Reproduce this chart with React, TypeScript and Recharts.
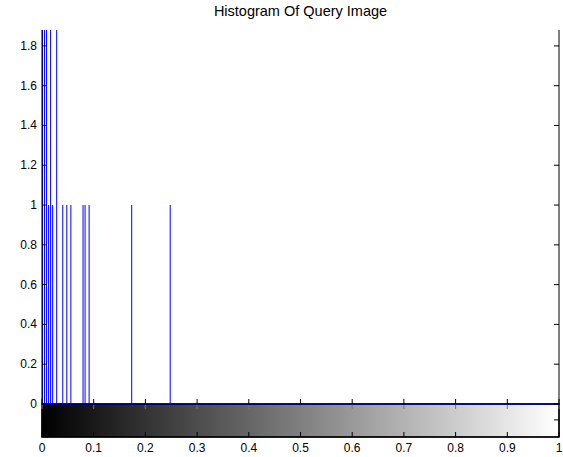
import React from 'react'
import { ComposedChart, Bar, XAxis, YAxis, ReferenceArea, ReferenceLine } from 'recharts'

// histogram of query image: occupied intensity bins (index of 256) and their pixel counts
const binIndex = [0, 1, 2, 3, 4, 5, 7, 10, 12, 14, 20, 21, 23, 44, 63]
const binCount = [6, 3, 3, 1, 2, 1, 2, 1, 1, 1, 1, 1, 1, 1, 1]

const xTicks = [0, 0.1, 0.2, 0.3, 0.4, 0.5, 0.6, 0.7, 0.8, 0.9, 1]
const yTicks = [0, 0.2, 0.4, 0.6, 0.8, 1, 1.2, 1.4, 1.6, 1.8]
const colorbarTicks = [-0.08]

const yTop = 1.88
const yBottom = -0.166 // lower edge of the grey colorbar strip

const data = binIndex.map((b, i) => ({ level: b / 255, count: binCount[i] }))

const font = "Arial, 'Liberation Sans', Helvetica, sans-serif"
const fmt = (v: number) => (Number.isInteger(v) ? String(v) : v.toFixed(1))

const BottomTick = ({ x, y, payload }: any) => (
  <g>
    <line x1={x} y1={y} x2={x} y2={y - 5} stroke="#000" />
    <line x1={x} y1={y - 33} x2={x} y2={y - 38} stroke="#000" />
    <line x1={x} y1={y - 32} x2={x} y2={y - 28} stroke="#777" />
    <text x={x} y={y + 15} textAnchor="middle" fontSize={12} fontFamily={font} fill="#000">
      {fmt(payload.value)}
    </text>
  </g>
)

const TopTick = ({ x, y }: any) => <line x1={x} y1={y} x2={x} y2={y + 5} stroke="#000" />

const LeftTick = ({ x, y, payload }: any) => (
  <g>
    <line x1={x} y1={y} x2={x + 5} y2={y} stroke="#000" />
    <text x={x - 5} y={y + 4} textAnchor="end" fontSize={12} fontFamily={font} fill="#000">
      {fmt(payload.value)}
    </text>
  </g>
)

const RightTick = ({ x, y }: any) => <line x1={x} y1={y} x2={x - 5} y2={y} stroke="#000" />

export default function App() {
  return (
    <div style={{ position: 'absolute', left: 0, top: 0, width: 563, height: 457, background: '#fff' }}>
      <div
        style={{
          position: 'absolute',
          left: 42,
          width: 517,
          top: 4,
          textAlign: 'center',
          fontFamily: font,
          fontSize: 14.5,
          lineHeight: '14px',
          color: '#000',
        }}
      >
        Histogram Of Query Image
      </div>
      <ComposedChart width={563} height={457} data={data} margin={{ top: 30, right: 2, bottom: 0, left: 0 }}>
        <defs>
          <linearGradient id="cbar" x1="0" y1="0" x2="1" y2="0">
            <stop offset="0%" stopColor="#000" />
            <stop offset="100%" stopColor="#fff" />
          </linearGradient>
        </defs>
        <XAxis
          dataKey="level"
          type="number"
          domain={[0, 1]}
          ticks={xTicks}
          interval={0}
          height={20}
          tickSize={0}
          tickMargin={0}
          tickLine={false}
          axisLine={{ stroke: '#000' }}
          tick={<BottomTick />}
        />
        <XAxis
          xAxisId="top"
          orientation="top"
          type="number"
          domain={[0, 1]}
          ticks={xTicks}
          interval={0}
          height={0}
          tickSize={0}
          tickMargin={0}
          tickLine={false}
          axisLine={{ stroke: '#000' }}
          tick={<TopTick />}
        />
        <YAxis
          yAxisId="l"
          type="number"
          domain={[yBottom, yTop]}
          allowDataOverflow
          ticks={yTicks}
          interval={0}
          width={42}
          tickSize={0}
          tickMargin={0}
          tickLine={false}
          axisLine={{ stroke: '#000' }}
          tick={<LeftTick />}
        />
        <YAxis
          yAxisId="r"
          orientation="right"
          type="number"
          domain={[yBottom, yTop]}
          allowDataOverflow
          ticks={[...colorbarTicks, ...yTicks]}
          interval={0}
          width={2}
          tickSize={0}
          tickMargin={0}
          tickLine={false}
          axisLine={{ stroke: '#000' }}
          tick={<RightTick />}
        />
        <ReferenceArea
          yAxisId="l"
          x1={0}
          x2={1}
          y1={yBottom}
          y2={0}
          fill="url(#cbar)"
          fillOpacity={1}
          stroke="#000"
          strokeWidth={1.5}
        />
        <Bar yAxisId="l" dataKey="count" fill="#0000ff" barSize={1} isAnimationActive={false} />
        <ReferenceLine yAxisId="l" y={0} stroke="#000080" strokeWidth={1.5} />
      </ComposedChart>
    </div>
  )
}
